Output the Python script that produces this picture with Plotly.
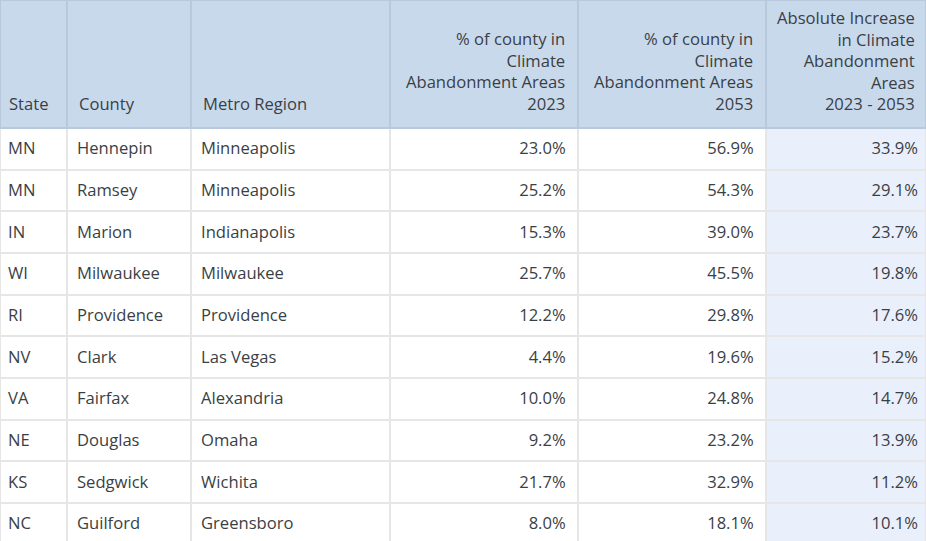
import plotly.graph_objects as go

states = ["MN", "MN", "IN", "WI", "RI", "NV", "VA", "NE", "KS", "NC"]
counties = ["Hennepin", "Ramsey", "Marion", "Milwaukee", "Providence", "Clark",
            "Fairfax", "Douglas", "Sedgwick", "Guilford"]
metros = ["Minneapolis", "Minneapolis", "Indianapolis", "Milwaukee", "Providence",
          "Las Vegas", "Alexandria", "Omaha", "Wichita", "Greensboro"]
pct_2023 = [23.0, 25.2, 15.3, 25.7, 12.2, 4.4, 10.0, 9.2, 21.7, 8.0]
pct_2053 = [56.9, 54.3, 39.0, 45.5, 29.8, 19.6, 24.8, 23.2, 32.9, 18.1]
abs_increase = [33.9, 29.1, 23.7, 19.8, 17.6, 15.2, 14.7, 13.9, 11.2, 10.1]

headers = [
    "State",
    "County",
    "Metro Region",
    "% of county in<br>Climate<br>Abandonment Areas<br>2023",
    "% of county in<br>Climate<br>Abandonment Areas<br>2053",
    "Absolute Increase<br>in Climate<br>Abandonment<br>Areas<br>2023 - 2053",
]
header_align = ["left", "left", "left", "right", "right", "right"]

FONT = "Open Sans"
FS = 16.6
TXT = "#3a3f45"
W, H_VIEW = 926, 541
H = 552                      # figure a bit taller than the window; bottom is cropped like the reference
col_w = [67, 124, 199, 188, 188, 160]
text_col_w = [69, 124, 197, 188, 188, 160]   # slightly larger left padding for County / Metro text
HEADER_H = 128
ROW_H = 41.67
TEXT_SHIFT = 6               # move cell text down within its row
CLEAR = "rgba(0,0,0,0)"

n = len(states)
white = ["#ffffff"] * n
light = ["#eaf0fb"] * n
cell_align = ["left", "left", "left", "right", "right", "right"]

col_2023 = [f"{v:.1f}%\u00a0" for v in pct_2023]
col_2053 = [f"{v:.1f}%\u00a0" for v in pct_2053]
col_abs = [f"{v:.1f}%" for v in abs_increase]
blank = [""] * n

# grid / fills table
grid = go.Table(
    columnwidth=col_w,
    header=dict(
        values=[""] * 6,
        fill_color="#c9d9ec",
        line=dict(color="#b9c9dc", width=1.5),
        height=HEADER_H,
    ),
    cells=dict(
        values=[blank] * 6,
        fill_color=[white, white, white, white, white, light],
        line=dict(color="#e6e6e6", width=2),
        height=ROW_H,
    ),
    domain=dict(x=[0, 1], y=[0, 1]),
    hoverinfo="skip",
)

# text table (transparent), offset slightly so text sits centred in each row
text = go.Table(
    columnwidth=text_col_w,
    header=dict(
        values=[""] * 6,
        fill_color=CLEAR,
        line=dict(color=CLEAR, width=0),
        height=HEADER_H + TEXT_SHIFT,
    ),
    cells=dict(
        values=[states, counties, metros, col_2023, col_2053, col_abs],
        align=cell_align,
        fill_color=CLEAR,
        line=dict(color=CLEAR, width=0),
        font=dict(family=FONT, size=FS, color=TXT),
        height=ROW_H,
    ),
    domain=dict(x=[0, 1], y=[0, 1]),
)

fig = go.Figure([grid, text])

# header labels: bottom-aligned, each line aligned per column
edges = [0]
for w in col_w:
    edges.append(edges[-1] + w)
for i, (txt, al) in enumerate(zip(headers, header_align)):
    if al == "left":
        xpx = edges[i] + (7 if i == 0 else 10)
        xanchor = "left"
    else:
        xpx = edges[i + 1] - (9 if i == 5 else 11)
        xanchor = "right"
    fig.add_annotation(
        x=xpx / W, y=(H - 117) / H, xref="paper", yref="paper",
        xanchor=xanchor, yanchor="bottom", align=al,
        text=txt, showarrow=False,
        font=dict(family=FONT, size=FS, color=TXT),
    )

fig.update_layout(
    width=W, height=H,
    margin=dict(l=0, r=0, t=0, b=0),
    paper_bgcolor="#ffffff",
)

fig.write_html(
    "out.html", config={"displayModeBar": False},
    post_script="document.body.style.margin='0';document.body.style.overflow='hidden';"
                "document.documentElement.style.overflow='hidden';",
)
